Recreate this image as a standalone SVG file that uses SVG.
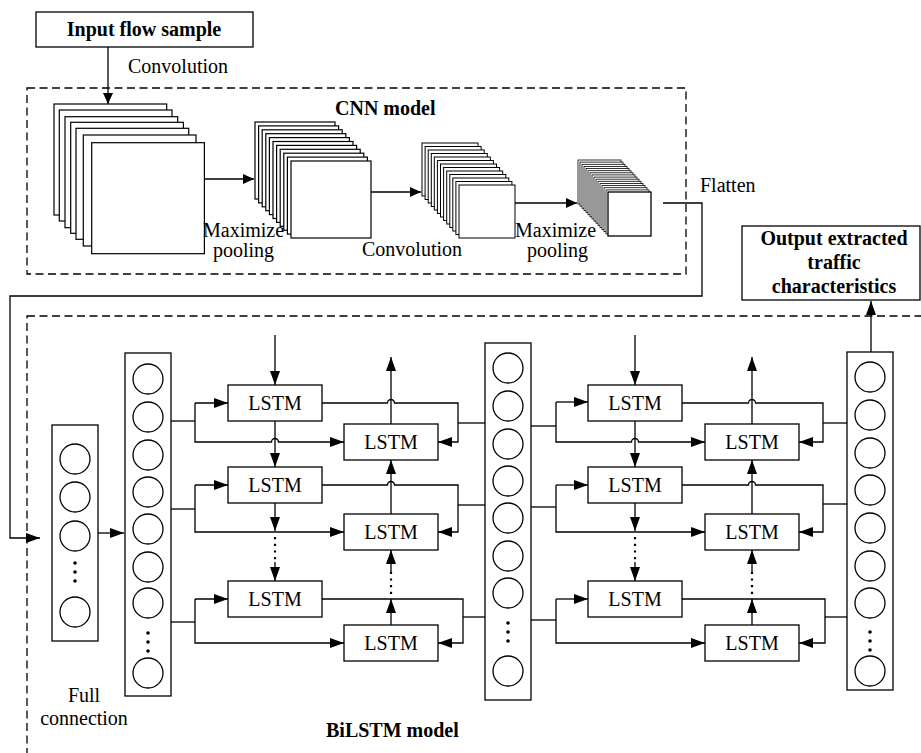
<svg xmlns="http://www.w3.org/2000/svg" xmlns:xlink="http://www.w3.org/1999/xlink" width="921" height="753" viewBox="0 0 921 753">
<style>
text{font-family:"Liberation Serif","Times New Roman",serif;font-size:20px;fill:#000}
.b{font-weight:bold}
.m{text-anchor:middle}
.box{fill:#fff;stroke:#000;stroke-width:1.3}
.lay{fill:#fff;stroke:#000;stroke-width:1.2}
.lay3{fill:#fff;stroke:#000;stroke-width:1}
.lay4{fill:#fff;stroke:#000;stroke-width:0.8}
.dash{fill:none;stroke:#000;stroke-width:1.3;stroke-dasharray:8 4.5}
.ln{fill:none;stroke:#000;stroke-width:1.3}
.ar{fill:none;stroke:#000;stroke-width:1.3;marker-end:url(#ah)}
.as{fill:none;stroke:#000;stroke-width:1.3;marker-end:url(#ahs)}
.dot{fill:none;stroke:#000;stroke-width:2.2;stroke-dasharray:2.2 4.5}
.cir{fill:#fff;stroke:#000;stroke-width:1.3}
</style>
<defs>
<marker id="ah" markerUnits="userSpaceOnUse" markerWidth="14" markerHeight="10" refX="14" refY="5" orient="auto" viewBox="0 0 14 10"><path d="M0,0 L14,5 L0,10 z" fill="#000"/></marker>
<marker id="ahs" markerUnits="userSpaceOnUse" markerWidth="11" markerHeight="10" refX="11" refY="5" orient="auto" viewBox="0 0 11 10"><path d="M0,0 L11,5 L0,10 z" fill="#000"/></marker>
<rect id="L1" class="lay" width="112.7" height="111"/>
<rect id="L2" class="lay" width="80" height="77"/>
<rect id="L3" class="lay3" width="56" height="53"/>
<rect id="L4" class="lay4" width="43" height="44"/>
<circle id="c" class="cir" r="15"/>
</defs>
<rect width="921" height="753" fill="#fff"/>

<!-- dashed model regions -->
<rect id="cnn-region" class="dash" x="27" y="88" width="659" height="186"/>
<text class="b" x="335" y="115">CNN model</text>
<rect id="bilstm-region" class="dash" x="27" y="316" width="910" height="460"/>
<text class="b" x="326" y="737">BiLSTM model</text>

<g id="input">
<rect class="box" x="36" y="12" width="217" height="35"/>
<text class="b m" x="144" y="36">Input flow sample</text>
</g>

<g id="stack1">
<use xlink:href="#L1" x="54" y="104"/>
<use xlink:href="#L1" x="59.3" y="110"/>
<use xlink:href="#L1" x="65" y="116.7"/>
<use xlink:href="#L1" x="70.7" y="122.3"/>
<use xlink:href="#L1" x="76" y="128.3"/>
<use xlink:href="#L1" x="83.3" y="135"/>
<use xlink:href="#L1" x="91.7" y="142.7"/>
</g>
<g id="stack2">
<use xlink:href="#L2" x="255" y="122"/>
<use xlink:href="#L2" x="258.6" y="125.9"/>
<use xlink:href="#L2" x="262.2" y="129.8"/>
<use xlink:href="#L2" x="265.8" y="133.7"/>
<use xlink:href="#L2" x="269.4" y="137.6"/>
<use xlink:href="#L2" x="273" y="141.5"/>
<use xlink:href="#L2" x="276.6" y="145.4"/>
<use xlink:href="#L2" x="280.2" y="149.3"/>
<use xlink:href="#L2" x="283.8" y="153.2"/>
<use xlink:href="#L2" x="287.4" y="157.1"/>
<use xlink:href="#L2" x="291" y="161"/>
</g>
<g id="stack3">
<use xlink:href="#L3" x="422" y="143"/>
<use xlink:href="#L3" x="425.1" y="146.5"/>
<use xlink:href="#L3" x="428.2" y="150"/>
<use xlink:href="#L3" x="431.3" y="153.5"/>
<use xlink:href="#L3" x="434.3" y="157"/>
<use xlink:href="#L3" x="437.4" y="160.5"/>
<use xlink:href="#L3" x="440.5" y="164"/>
<use xlink:href="#L3" x="443.6" y="167.5"/>
<use xlink:href="#L3" x="446.7" y="171"/>
<use xlink:href="#L3" x="449.8" y="174.5"/>
<use xlink:href="#L3" x="452.8" y="178"/>
<use xlink:href="#L3" x="455.9" y="181.5"/>
<use xlink:href="#L3" x="459" y="185"/>
</g>
<g id="stack4">
<use xlink:href="#L4" x="578" y="160"/>
<use xlink:href="#L4" x="580" y="162.1"/>
<use xlink:href="#L4" x="582" y="164.3"/>
<use xlink:href="#L4" x="584" y="166.4"/>
<use xlink:href="#L4" x="586" y="168.5"/>
<use xlink:href="#L4" x="588" y="170.7"/>
<use xlink:href="#L4" x="590" y="172.8"/>
<use xlink:href="#L4" x="592" y="174.9"/>
<use xlink:href="#L4" x="594" y="177.1"/>
<use xlink:href="#L4" x="596" y="179.2"/>
<use xlink:href="#L4" x="598" y="181.3"/>
<use xlink:href="#L4" x="600" y="183.5"/>
<use xlink:href="#L4" x="602" y="185.6"/>
<use xlink:href="#L4" x="604" y="187.7"/>
<use xlink:href="#L4" x="606" y="189.9"/>
<rect x="608" y="192" width="43" height="44" fill="#fff" stroke="#000" stroke-width="1.3"/>
</g>

<g id="cnn-labels">
<text x="128" y="73">Convolution</text>
<text x="203" y="237">Maximize</text>
<text x="213" y="257">pooling</text>
<text x="362" y="256">Convolution</text>
<text x="515" y="237">Maximize</text>
<text x="527" y="257">pooling</text>
<text x="700" y="192">Flatten</text>
</g>

<g id="output">
<rect class="box" x="742" y="226" width="178" height="74"/>
<text class="b m" x="834" y="245">Output extracted</text>
<text class="b m" x="834" y="269">traffic</text>
<text class="b m" x="834" y="293">characteristics</text>
</g>

<g id="col1">
<rect class="box" x="52" y="425" width="46" height="216"/>
<use xlink:href="#c" x="75" y="459"/>
<use xlink:href="#c" x="75" y="497"/>
<use xlink:href="#c" x="75" y="536"/>
<use xlink:href="#c" x="75" y="612"/>
<circle cx="75" cy="563" r="1.8"/><circle cx="75" cy="572" r="1.8"/><circle cx="75" cy="581" r="1.8"/>
<text class="m" x="84" y="702">Full</text>
<text class="m" x="84" y="725">connection</text>
</g>
<g id="col2">
<rect class="box" x="125" y="353" width="46" height="343"/>
<use xlink:href="#c" x="148" y="379"/>
<use xlink:href="#c" x="148" y="417"/>
<use xlink:href="#c" x="148" y="455"/>
<use xlink:href="#c" x="148" y="492"/>
<use xlink:href="#c" x="148" y="529"/>
<use xlink:href="#c" x="148" y="567"/>
<use xlink:href="#c" x="148" y="603"/>
<use xlink:href="#c" x="148" y="673"/>
<circle cx="148" cy="633" r="1.8"/><circle cx="148" cy="642" r="1.8"/><circle cx="148" cy="651" r="1.8"/>
</g>
<g id="col3">
<rect class="box" x="485" y="343" width="46" height="357"/>
<use xlink:href="#c" x="508" y="368"/>
<use xlink:href="#c" x="508" y="406"/>
<use xlink:href="#c" x="508" y="444"/>
<use xlink:href="#c" x="508" y="481"/>
<use xlink:href="#c" x="508" y="518"/>
<use xlink:href="#c" x="508" y="556"/>
<use xlink:href="#c" x="508" y="593"/>
<use xlink:href="#c" x="508" y="671"/>
<circle cx="508" cy="623" r="1.8"/><circle cx="508" cy="632" r="1.8"/><circle cx="508" cy="641" r="1.8"/>
</g>
<g id="col4">
<rect class="box" x="847" y="352" width="46" height="338"/>
<use xlink:href="#c" x="870" y="377"/>
<use xlink:href="#c" x="870" y="415"/>
<use xlink:href="#c" x="870" y="453"/>
<use xlink:href="#c" x="870" y="490"/>
<use xlink:href="#c" x="870" y="528"/>
<use xlink:href="#c" x="870" y="566"/>
<use xlink:href="#c" x="870" y="603"/>
<use xlink:href="#c" x="870" y="671"/>
<circle cx="870" cy="632" r="1.8"/><circle cx="870" cy="641" r="1.8"/><circle cx="870" cy="650" r="1.8"/>
</g>

<g id="lstm-g1">
<g id="g1-a1"><rect class="box" x="228" y="385" width="94" height="36"/><text class="m" x="275" y="410">LSTM</text></g>
<g id="g1-a2"><rect class="box" x="228" y="467" width="94" height="36"/><text class="m" x="275" y="492">LSTM</text></g>
<g id="g1-a3"><rect class="box" x="228" y="581" width="94" height="36"/><text class="m" x="275" y="606">LSTM</text></g>
<g id="g1-b1"><rect class="box" x="344" y="424" width="94" height="36"/><text class="m" x="391" y="449">LSTM</text></g>
<g id="g1-b2"><rect class="box" x="344" y="514" width="94" height="36"/><text class="m" x="391" y="539">LSTM</text></g>
<g id="g1-b3"><rect class="box" x="344" y="625" width="94" height="36"/><text class="m" x="391" y="650">LSTM</text></g>
</g>
<g id="lstm-g2">
<g id="g2-a1"><rect class="box" x="588" y="385" width="94" height="36"/><text class="m" x="635" y="410">LSTM</text></g>
<g id="g2-a2"><rect class="box" x="588" y="467" width="94" height="36"/><text class="m" x="635" y="492">LSTM</text></g>
<g id="g2-a3"><rect class="box" x="588" y="581" width="94" height="36"/><text class="m" x="635" y="606">LSTM</text></g>
<g id="g2-b1"><rect class="box" x="705" y="424" width="94" height="36"/><text class="m" x="752" y="449">LSTM</text></g>
<g id="g2-b2"><rect class="box" x="705" y="514" width="94" height="36"/><text class="m" x="752" y="539">LSTM</text></g>
<g id="g2-b3"><rect class="box" x="705" y="625" width="94" height="36"/><text class="m" x="752" y="650">LSTM</text></g>
</g>

<g id="connectors">
<!-- CNN -->
<path class="as" d="M108,47 V104"/>
<path class="as" d="M204,179 H254"/>
<path class="as" d="M371,192 H421"/>
<path class="as" d="M515,203 H577"/>
<path class="ar" d="M663,203 H702 V296 H10 V538 H40"/>
<path class="ar" d="M98,533 H124"/>
<path class="ar" d="M871,352 V301"/>

<!-- group 1 -->
<path class="ar" d="M275,335 V385"/>
<path class="ln" d="M171,421 H195"/>
<path class="ar" d="M195,403 H228"/>
<path class="ar" d="M195,403 V442 H271.5 A3.5,3.5 0 0 1 278.5,442 H344"/>
<path class="ar" d="M275,421 V467"/>
<path class="ar" d="M322,403 H387.5 A3.5,3.5 0 0 1 394.5,403 H458 V442 H438"/>
<path class="ln" d="M458,423 H485"/>
<path class="ar" d="M391,424 V357"/>

<path class="ln" d="M171,509 H195"/>
<path class="ar" d="M195,485 H228"/>
<path class="ar" d="M195,485 V532 H344"/>
<path class="ar" d="M275,503 V531"/>
<path class="dot" d="M275,537 V563"/>
<path class="ar" d="M275,562 V581"/>
<path class="ar" d="M322,485 H387.5 A3.5,3.5 0 0 1 394.5,485 H458 V532 H438"/>
<path class="ln" d="M458,505 H485"/>
<path class="ar" d="M391,514 V460"/>

<path class="ln" d="M171,622 H195"/>
<path class="ar" d="M195,599 H228"/>
<path class="ar" d="M195,599 V643 H344"/>
<path class="ar" d="M322,599 H463 V643 H438"/>
<path class="ln" d="M463,617 H485"/>
<path class="ar" d="M391,625 V599"/>
<path class="dot" d="M391,594 V571"/>
<path class="ar" d="M391,572 V550"/>

<!-- group 2 -->
<path class="ar" d="M635,335 V385"/>
<path class="ln" d="M531,426 H556"/>
<path class="ar" d="M556,402 H588"/>
<path class="ar" d="M556,402 V442 H631.5 A3.5,3.5 0 0 1 638.5,442 H705"/>
<path class="ar" d="M635,421 V467"/>
<path class="ar" d="M682,403 H748.5 A3.5,3.5 0 0 1 755.5,403 H823 V442 H799"/>
<path class="ln" d="M823,423 H847"/>
<path class="ar" d="M752,424 V357"/>

<path class="ln" d="M531,507 H556"/>
<path class="ar" d="M556,485 H588"/>
<path class="ar" d="M556,485 V532 H705"/>
<path class="ar" d="M635,503 V531"/>
<path class="dot" d="M635,537 V563"/>
<path class="ar" d="M635,562 V581"/>
<path class="ar" d="M682,485 H748.5 A3.5,3.5 0 0 1 755.5,485 H823 V532 H799"/>
<path class="ln" d="M823,504 H847"/>
<path class="ar" d="M752,514 V460"/>

<path class="ln" d="M531,620 H556"/>
<path class="ar" d="M556,599 H588"/>
<path class="ar" d="M556,599 V643 H705"/>
<path class="ar" d="M682,599 H825 V643 H799"/>
<path class="ln" d="M825,617 H847"/>
<path class="ar" d="M752,625 V599"/>
<path class="dot" d="M752,594 V571"/>
<path class="ar" d="M752,572 V550"/>
</g>
</svg>
